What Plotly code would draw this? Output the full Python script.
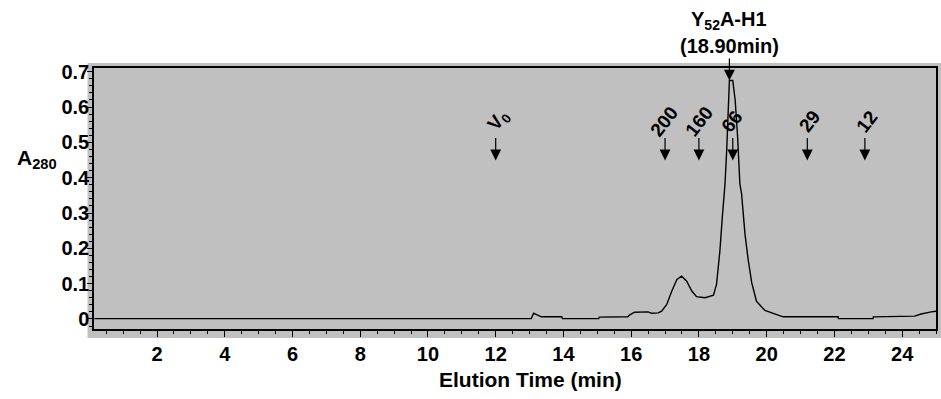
import plotly.graph_objects as go

# Size-exclusion chromatogram: elution time (min) vs. absorbance at 280 nm
elution_time = [
    0.15, 13.05, 13.12, 13.2, 13.35, 13.95, 13.97, 15.04, 15.06, 15.9,
    15.95, 16.1, 16.5, 16.6, 16.8, 16.9, 17.05, 17.2, 17.35, 17.49,
    17.64, 17.79, 17.93, 18.18, 18.43, 18.52, 18.62, 18.69, 18.77, 18.82,
    18.87, 18.90, 19.0, 19.07, 19.14, 19.21, 19.26, 19.36, 19.46, 19.56,
    19.7, 19.95, 20.34, 20.49, 22.11, 22.12, 23.14, 23.15, 24.37, 24.56,
    24.86, 25.0,
]
absorbance = [
    0.001, 0.001, 0.016, 0.013, 0.006, 0.006, 0.001, 0.001, 0.005, 0.006,
    0.011, 0.019, 0.020, 0.016, 0.017, 0.022, 0.041, 0.079, 0.112, 0.121,
    0.107, 0.079, 0.063, 0.060, 0.067, 0.098, 0.193, 0.287, 0.382, 0.477,
    0.590, 0.675, 0.675, 0.620, 0.520, 0.382, 0.354, 0.240, 0.164, 0.102,
    0.050, 0.024, 0.011, 0.006, 0.006, 0.001, 0.001, 0.006, 0.008, 0.014,
    0.020, 0.022,
]

# Calibration markers (void volume and standards, kDa)
marker_labels = ["V<sub>0</sub>", "200", "160", "66", "29", "12"]
marker_times = [12.0, 17.0, 18.0, 19.0, 21.2, 22.9]

# Main peak
peak_name = "Y<sub>52</sub>A-H1"
peak_time = 18.90
peak_abs = 0.675

x_ticks = [2, 4, 6, 8, 10, 12, 14, 16, 18, 20, 22, 24]
y_ticks = [0, 0.1, 0.2, 0.3, 0.4, 0.5, 0.6, 0.7]

FONT = "Liberation Sans"
GRAY = "#c0c0c0"

fig = go.Figure()
fig.add_trace(go.Scatter(
    x=elution_time, y=absorbance, mode="lines",
    line=dict(color="black", width=1.4),
    hoverinfo="skip", showlegend=False,
))

annotations = []
# Arrows pointing down at each calibration position
for t in marker_times:
    annotations.append(dict(
        x=t, y=0.449, xref="x", yref="y", text="",
        showarrow=True, ax=0, ay=-24, axref="pixel", ayref="pixel",
        arrowhead=2, arrowsize=1.8, arrowwidth=1.2, arrowcolor="black",
    ))
# Rotated marker labels above the arrows
label_dx = [3, -1, 0, -1, 2, 2]
for t, lab, dx in zip(marker_times, marker_labels, label_dx):
    annotations.append(dict(
        x=t, y=0.56, xref="x", yref="y", text=lab, showarrow=False,
        textangle=-52, xanchor="center", yanchor="middle", xshift=dx,
        font=dict(family=FONT, size=19, color="black", weight="bold"),
    ))
# Peak label with arrow to the apex
annotations.append(dict(
    x=peak_time, y=peak_abs, xref="x", yref="y",
    text=f"({peak_time:.2f}min)", showarrow=True,
    ax=0, ay=-22, axref="pixel", ayref="pixel",
    arrowhead=2, arrowsize=1.8, arrowwidth=1.2, arrowcolor="black",
    xanchor="center", yanchor="bottom",
    font=dict(family=FONT, size=20, color="black", weight="bold"),
))
annotations.append(dict(
    x=peak_time, y=1.0, xref="x", yref="paper", yshift=33,
    text=peak_name, showarrow=False, xanchor="center", yanchor="bottom",
    font=dict(family=FONT, size=20, color="black", weight="bold"),
))
# Axis titles
annotations.append(dict(
    x=0.519, y=-0.14, xref="paper", yref="paper",
    text="Elution Time (min)", showarrow=False,
    xanchor="center", yanchor="top",
    font=dict(family=FONT, size=21, color="black", weight="bold"),
))
annotations.append(dict(
    x=-0.0415, y=0.652, xref="paper", yref="paper",
    text="A<sub>280</sub>", showarrow=False,
    xanchor="right", yanchor="middle",
    font=dict(family=FONT, size=21, color="black", weight="bold"),
))

fig.update_layout(
    width=941, height=399,
    margin=dict(l=94, r=3, t=68, b=70),
    paper_bgcolor="white",
    plot_bgcolor=GRAY,
    annotations=annotations,
    shapes=[dict(
        type="rect", xref="paper", yref="paper", layer="below",
        x0=-0.0077, x1=1.01, y0=-0.0345, y1=1.019,
        fillcolor=GRAY, line=dict(width=0),
    )],
    xaxis=dict(
        range=[0.14, 25.0], tickvals=x_ticks,
        ticks="outside", ticklen=6, tickwidth=1.2, tickcolor="black",
        minor=dict(dtick=0.5, tick0=0, ticks="outside", ticklen=3,
                   tickwidth=1, tickcolor="black"),
        showline=True, linecolor="black", linewidth=1.5, mirror=True,
        showgrid=False, zeroline=False,
        tickfont=dict(family=FONT, size=20, color="black", weight="bold"),
    ),
    yaxis=dict(
        range=[-0.0285, 0.7106], tickvals=y_ticks,
        ticktext=[f"{v:g}" for v in y_ticks],
        ticks="outside", ticklen=5, tickwidth=1.2, tickcolor="black",
        minor=dict(dtick=0.02, tick0=0, ticks="outside", ticklen=3,
                   tickwidth=1, tickcolor="black"),
        showline=True, linecolor="black", linewidth=1.5, mirror=True,
        showgrid=False, zeroline=False, ticklabelstandoff=-6,
        tickfont=dict(family=FONT, size=20, color="black", weight="bold"),
    ),
)

fig.write_html("out.html")
